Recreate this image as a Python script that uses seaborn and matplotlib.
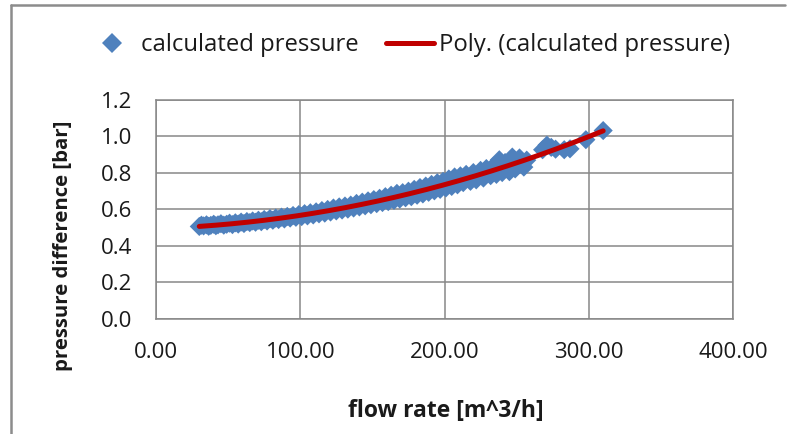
import matplotlib
matplotlib.use("Agg")
import matplotlib.pyplot as plt
import seaborn as sns
import numpy as np
import pandas as pd
from matplotlib.lines import Line2D

flow_rate = [30, 31.5, 33, 35, 36.5, 38, 40, 41.5, 43, 45, 47, 49, 51, 53, 55, 57, 59, 61, 63, 65,
             67, 69, 71, 73, 75, 77, 79, 81, 83, 85, 87, 89, 91, 93, 95, 97, 99, 101, 103, 105,
             107, 109, 111, 113, 115, 117, 119, 121, 123, 125, 127, 129, 131, 133, 135, 137, 139, 141, 143, 145,
             147, 149, 151, 153, 155, 157, 159, 161, 163, 165, 167, 169, 171, 173, 175, 177, 179, 181, 183, 185,
             187, 189, 191, 193, 195, 197, 199, 201, 203, 205, 207, 209, 211, 213, 215, 218, 220, 222, 225, 227,
             229, 232, 234, 236, 238, 240, 242, 245, 247, 249, 252, 255, 257, 268, 271, 274, 277, 283, 287, 298, 310]
pressure = [0.505, 0.512, 0.508, 0.514, 0.506, 0.511, 0.517, 0.509, 0.514, 0.520, 0.512, 0.517, 0.523, 0.515, 0.525, 0.518, 0.529, 0.521, 0.532, 0.526,
            0.535, 0.528, 0.539, 0.531, 0.543, 0.535, 0.548, 0.539, 0.551, 0.543, 0.556, 0.546, 0.560, 0.551, 0.565, 0.555, 0.570, 0.559, 0.575, 0.563,
            0.580, 0.568, 0.585, 0.574, 0.592, 0.578, 0.598, 0.584, 0.606, 0.590, 0.612, 0.595, 0.617, 0.600, 0.622, 0.606, 0.631, 0.612, 0.638, 0.618,
            0.645, 0.624, 0.652, 0.630, 0.659, 0.636, 0.668, 0.641, 0.676, 0.648, 0.686, 0.655, 0.690, 0.662, 0.698, 0.668, 0.708, 0.676, 0.718, 0.683,
            0.726, 0.692, 0.735, 0.700, 0.744, 0.708, 0.752, 0.716, 0.765, 0.724, 0.776, 0.733, 0.782, 0.745, 0.790, 0.752, 0.800, 0.760, 0.812, 0.770,
            0.822, 0.783, 0.835, 0.790, 0.870, 0.800, 0.855, 0.805, 0.885, 0.820, 0.880, 0.830, 0.868, 0.925, 0.950, 0.938, 0.928, 0.925, 0.930, 0.980, 1.030]

x_ticks = [0, 100, 200, 300, 400]
x_tick_labels = ["0.00", "100.00", "200.00", "300.00", "400.00"]
y_ticks = [0.0, 0.2, 0.4, 0.6, 0.8, 1.0, 1.2]
y_tick_labels = ["0.0", "0.2", "0.4", "0.6", "0.8", "1.0", "1.2"]

df = pd.DataFrame({"flow": flow_rate, "pressure": pressure})
coef = np.polyfit(df["flow"], df["pressure"], 2)
trend_x = np.linspace(min(flow_rate), max(flow_rate), 200)
trend = pd.DataFrame({"flow": trend_x, "pressure": np.polyval(coef, trend_x)})

sns.set_theme(style="white")
plt.rcParams["font.family"] = ["Open Sans", "DejaVu Sans"]

BLUE = "#4F81BD"
RED = "#C00000"
GRID = "#878787"
TXT = "#1a1a1a"

fig = plt.figure(figsize=(7.87, 4.34), dpi=100)
ax = fig.add_axes([156/787, 1-318.7/434, (733-156)/787, (318.7-99.5)/434])

sns.scatterplot(data=df, x="flow", y="pressure", marker="D", s=95, color=BLUE,
                edgecolor="none", linewidth=0, ax=ax, legend=False, zorder=3)
sns.lineplot(data=trend, x="flow", y="pressure", color=RED, linewidth=3.6, ax=ax,
             legend=False, zorder=4)

ax.set_xlim(0, 400)
ax.set_ylim(0, 1.2)
ax.set_xticks(x_ticks)
ax.set_xticklabels(x_tick_labels)
ax.set_yticks(y_ticks)
ax.set_yticklabels(y_tick_labels)
ax.grid(True, color=GRID, linewidth=1.1)
ax.set_axisbelow(True)
for s in ax.spines.values():
    s.set_color(GRID)
    s.set_linewidth(1.1)
ax.tick_params(axis="both", which="both", length=6, width=1.1, color=GRID,
               labelsize=16, labelcolor=TXT, direction="out")
ax.tick_params(axis="x", pad=11)
ax.tick_params(axis="y", pad=11)
ax.set_xlabel("")
ax.set_ylabel("")

fig.text(63/787, 1-246/434, "pressure difference [bar]", rotation=90, ha="center", va="center",
         fontsize=14.7, fontweight="bold", color=TXT)
fig.text(446/787, 1-411/434, "flow rate [m^3/h]", ha="center", va="center",
         fontsize=16.5, fontweight="bold", color=TXT)

handles = [Line2D([], [], marker="D", color=BLUE, linestyle="none", markersize=10.5, markeredgewidth=0),
           Line2D([], [], color=RED, linewidth=3.6)]
fig.legend(handles, ["calculated pressure", "Poly. (calculated pressure)"], ncol=2,
           loc="center", bbox_to_anchor=(409/787, 1-45/434), frameon=False, fontsize=17.2,
           handlelength=2.0, handletextpad=0.2, columnspacing=1.15, labelcolor=TXT)

# chart-area border (top and left)
fig.add_artist(Line2D([11/787, 11/787], [0, 1-5/434], transform=fig.transFigure, color="#8C8C8C", linewidth=1.8))
fig.add_artist(Line2D([11/787, 785/787], [1-5/434, 1-5/434], transform=fig.transFigure, color="#8C8C8C", linewidth=1.8))

fig.savefig("out.png", dpi=100)
